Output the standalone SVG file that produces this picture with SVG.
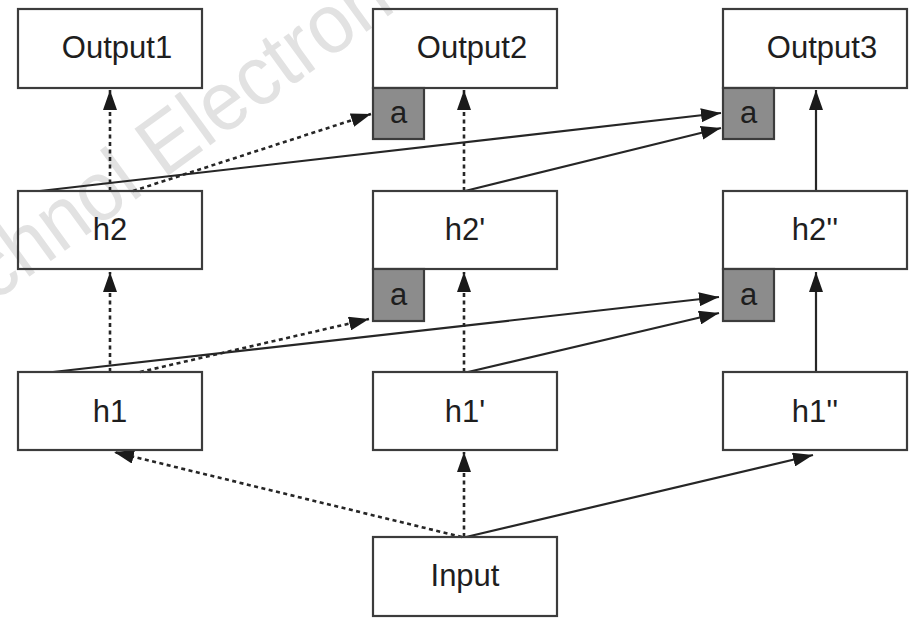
<svg xmlns="http://www.w3.org/2000/svg" width="911" height="618" viewBox="0 0 911 618">
  <defs>
    <style>
      .box { fill: none; stroke: #3c3c3c; stroke-width: 2.2; }
      .att { fill: #8c8c8c; stroke: #3c3c3c; stroke-width: 2.2; }
      .lbl { font-family: "Liberation Sans", Arial, sans-serif; font-size: 31px; fill: #1e1e1e; text-anchor: middle; }
      .edge { fill: none; stroke: #262626; stroke-width: 2.2; marker-end: url(#head); }
      .dash { stroke-dasharray: 4 3.5; stroke-width: 2.6; }
      .mark { font-family: "Liberation Sans", Arial, sans-serif; font-size: 84px; fill: #e2e2e2; }
    </style>
    <marker id="head" markerUnits="userSpaceOnUse" markerWidth="22" markerHeight="14" refX="20" refY="7" orient="auto" viewBox="0 0 22 14">
      <path d="M0,0 L20,7 L0,14 z" fill="#1a1a1a"/>
    </marker>
  </defs>

  <rect width="911" height="618" fill="#ffffff"/>

  <!-- watermark, underneath everything else -->
  <text class="mark" transform="translate(-7 303) rotate(-36)" textLength="500" lengthAdjust="spacingAndGlyphs">chnol Electron</text>

  <!-- connectors -->
  <g id="edges">
    <!-- h2 layer up to outputs -->
    <line class="edge dash" x1="110" y1="191" x2="110" y2="90"/>
    <line class="edge dash" x1="133" y1="191" x2="371" y2="114"/>
    <line class="edge" x1="40" y1="191" x2="721" y2="113"/>
    <line class="edge dash" x1="464" y1="191" x2="464" y2="90"/>
    <line class="edge" x1="465" y1="191" x2="721" y2="128"/>
    <line class="edge" x1="816" y1="191" x2="816" y2="90"/>
    <!-- h1 layer up to h2 layer -->
    <line class="edge dash" x1="110" y1="372" x2="110" y2="272"/>
    <line class="edge dash" x1="140" y1="372" x2="369" y2="319"/>
    <line class="edge" x1="53" y1="372" x2="719" y2="297"/>
    <line class="edge dash" x1="464" y1="372" x2="464" y2="272"/>
    <line class="edge" x1="468" y1="372" x2="719" y2="313"/>
    <line class="edge" x1="816" y1="372" x2="816" y2="272"/>
    <!-- input up to h1 layer -->
    <line class="edge dash" x1="462" y1="537" x2="114" y2="452"/>
    <line class="edge dash" x1="464" y1="537" x2="464" y2="452"/>
    <line class="edge" x1="466" y1="537" x2="813" y2="455"/>
  </g>

  <!-- outputs -->
  <g id="output1">
    <rect class="box" x="18" y="9" width="184" height="79"/>
    <text class="lbl" x="117" y="58">Output1</text>
  </g>
  <g id="output2">
    <rect class="box" x="373" y="9" width="184" height="79"/>
    <text class="lbl" x="472" y="58">Output2</text>
  </g>
  <g id="output2-a">
    <rect class="att" x="373" y="88" width="51" height="51"/>
    <text class="lbl" x="398.5" y="123">a</text>
  </g>
  <g id="output3">
    <rect class="box" x="723" y="9" width="184" height="79"/>
    <text class="lbl" x="822" y="58">Output3</text>
  </g>
  <g id="output3-a">
    <rect class="att" x="723" y="88" width="51" height="51"/>
    <text class="lbl" x="748.5" y="123">a</text>
  </g>

  <!-- second hidden layer -->
  <g id="h2">
    <rect class="box" x="18" y="191" width="184" height="78"/>
    <text class="lbl" x="110" y="240">h2</text>
  </g>
  <g id="h2p">
    <rect class="box" x="373" y="191" width="184" height="78"/>
    <text class="lbl" x="465" y="240">h2'</text>
  </g>
  <g id="h2p-a">
    <rect class="att" x="373" y="269" width="51" height="52"/>
    <text class="lbl" x="398.5" y="305">a</text>
  </g>
  <g id="h2pp">
    <rect class="box" x="723" y="191" width="184" height="78"/>
    <text class="lbl" x="815" y="240">h2''</text>
  </g>
  <g id="h2pp-a">
    <rect class="att" x="723" y="269" width="51" height="52"/>
    <text class="lbl" x="748.5" y="305">a</text>
  </g>

  <!-- first hidden layer -->
  <g id="h1">
    <rect class="box" x="18" y="372" width="184" height="78"/>
    <text class="lbl" x="110" y="422">h1</text>
  </g>
  <g id="h1p">
    <rect class="box" x="373" y="372" width="184" height="78"/>
    <text class="lbl" x="465" y="422">h1'</text>
  </g>
  <g id="h1pp">
    <rect class="box" x="723" y="372" width="184" height="78"/>
    <text class="lbl" x="815" y="422">h1''</text>
  </g>

  <!-- input -->
  <g id="input">
    <rect class="box" x="373" y="537" width="184" height="79"/>
    <text class="lbl" x="465" y="586">Input</text>
  </g>
</svg>
